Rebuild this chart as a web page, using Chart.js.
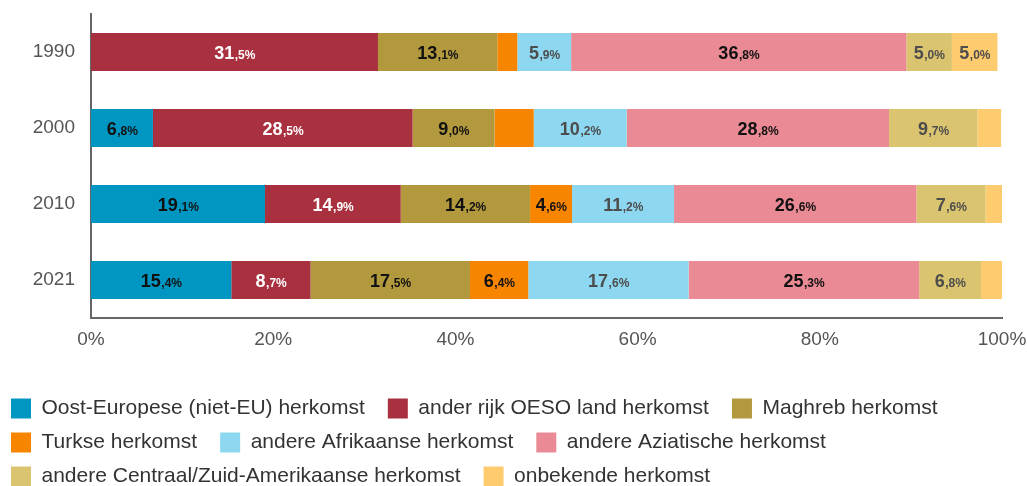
<!DOCTYPE html>
<html>
<head>
<meta charset="utf-8">
<script src="https://cdn.jsdelivr.net/npm/chart.js@4.4.1/dist/chart.umd.min.js"></script>
<style>
  html, body { margin: 0; padding: 0; background: #ffffff; }
  #wrap { width: 1027px; height: 486px; position: relative; }
</style>
</head>
<body>
<div id="wrap"><canvas id="c"></canvas></div>
<script>
// ---- Data ----
const categories = ['1990', '2000', '2010', '2021'];
const seriesNames = [
  'Oost-Europese (niet-EU) herkomst',
  'ander rijk OESO land herkomst',
  'Maghreb herkomst',
  'Turkse herkomst',
  'andere Afrikaanse herkomst',
  'andere Aziatische herkomst',
  'andere Centraal/Zuid-Amerikaanse herkomst',
  'onbekende herkomst'
];
const oostEuropese = [0, 6.8, 19.1, 15.4];
const anderOESO    = [31.5, 28.5, 14.9, 8.7];
const maghreb      = [13.1, 9.0, 14.2, 17.5];
const turkse       = [2.2, 4.3, 4.6, 6.4];
const afrikaanse   = [5.9, 10.2, 11.2, 17.6];
const aziatische   = [36.8, 28.8, 26.6, 25.3];
const amerikaanse  = [5.0, 9.7, 7.6, 6.8];
const onbekend     = [5.0, 2.6, 1.8, 2.3];
const xTicks = [0, 20, 40, 60, 80, 100];

// ---- Styles ----
const colors = ['#0096C2', '#A9303F', '#B3993E', '#F88500', '#8DD8F0', '#E98A95', '#DBC46F', '#FFCB6F'];
const labelColors = ['#111111', '#ffffff', '#111111', '#111111', '#4d4d4d', '#111111', '#4d4d4d', '#4d4d4d'];
const allSeries = [oostEuropese, anderOESO, maghreb, turkse, afrikaanse, aziatische, amerikaanse, onbekend];

const datasets = allSeries.map((vals, i) => ({
  label: seriesNames[i],
  data: vals,
  backgroundColor: colors[i],
  borderWidth: 0,
  categoryPercentage: 1.0,
  barPercentage: 0.5
}));

const FONT = '"Liberation Sans", Arial, sans-serif';

const valueLabels = {
  id: 'valueLabels',
  afterDatasetsDraw(chart) {
    const ctx = chart.ctx;
    ctx.save();
    chart.data.datasets.forEach((ds, di) => {
      const meta = chart.getDatasetMeta(di);
      if (meta.hidden) return;
      meta.data.forEach((el, j) => {
        const v = ds.data[j];
        if (v == null || v < 4.5) return;
        const p = el.getProps(['x', 'base', 'y'], true);
        const cx = (p.x + p.base) / 2;
        const parts = v.toFixed(1).split('.');
        const big = parts[0];
        const small = ',' + parts[1] + '%';
        ctx.font = 'bold 18px ' + FONT;
        const w1 = ctx.measureText(big).width;
        ctx.font = 'bold 12px ' + FONT;
        const w2 = ctx.measureText(small).width;
        const start = cx - (w1 + w2) / 2;
        const base = p.y + 6.5;
        ctx.fillStyle = labelColors[di];
        ctx.textAlign = 'left';
        ctx.textBaseline = 'alphabetic';
        ctx.font = 'bold 18px ' + FONT;
        ctx.fillText(big, start, base);
        ctx.font = 'bold 12px ' + FONT;
        ctx.fillText(small, start + w1 + 0.5, base);
      });
    });
    ctx.restore();
  }
};

new Chart(document.getElementById('c'), {
  type: 'bar',
  data: { labels: categories, datasets },
  plugins: [valueLabels],
  options: {
    indexAxis: 'y',
    responsive: true,
    maintainAspectRatio: false,
    animation: false,
    layout: { padding: { left: -2, right: 25, top: 14, bottom: -11 } },
    scales: {
      x: {
        stacked: true,
        min: 0, max: 100,
        afterBuildTicks(scale) { scale.ticks = xTicks.map(v => ({ value: v })); },
        afterFit(scale) {
          scale.height = 67;
          scale.paddingLeft = 0; scale.paddingRight = 0;
          scale.paddingTop = 0; scale.paddingBottom = 0;
        },
        grid: { display: false, drawTicks: false },
        border: { display: true, color: '#666666', width: 2 },
        ticks: {
          padding: 10,
          color: '#555555',
          font: { family: FONT, size: 19 },
          callback: v => v + '%'
        }
      },
      y: {
        stacked: true,
        afterFit(scale) {
          scale.width = 93;
          scale.paddingLeft = 0; scale.paddingRight = 0;
          scale.paddingTop = 0; scale.paddingBottom = 0;
        },
        grid: { display: false, drawTicks: false },
        border: { display: true, color: '#666666', width: 2 },
        ticks: {
          padding: 16,
          color: '#555555',
          font: { family: FONT, size: 19 }
        }
      }
    },
    plugins: {
      tooltip: { enabled: false },
      legend: {
        position: 'bottom',
        align: 'start',
        labels: {
          boxWidth: 20,
          boxHeight: 20,
          padding: 13,
          color: '#333333',
          font: { family: FONT, size: 21 },
          generateLabels(chart) {
            const items = Chart.defaults.plugins.legend.labels.generateLabels(chart);
            items.forEach(it => { it.text = it.text + ' \u2009'; it.lineWidth = 0; });
            return items;
          }
        }
      }
    }
  }
});
</script>
</body>
</html>
